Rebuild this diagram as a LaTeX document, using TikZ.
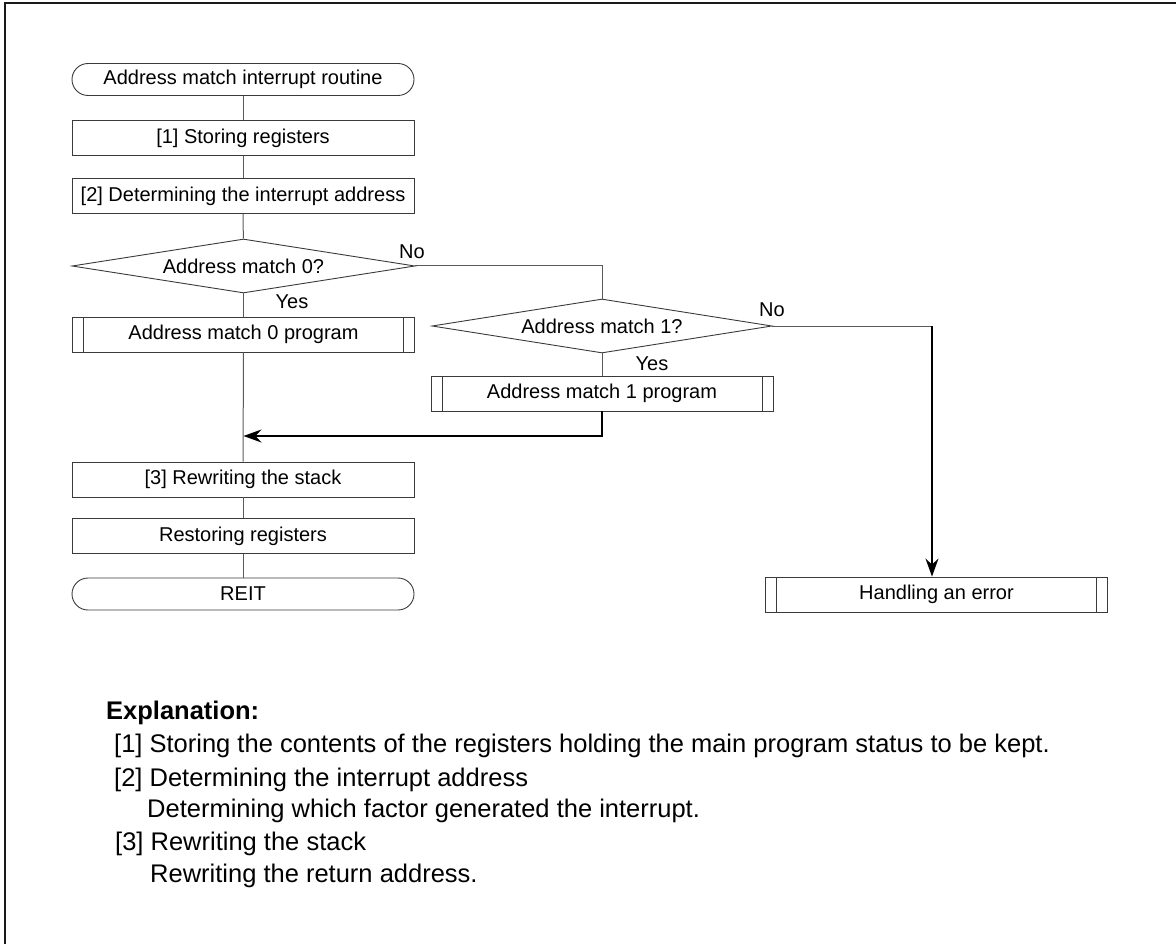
\documentclass[tikz,border=0pt]{standalone}
\usepackage{fontspec}
\setmainfont{Liberation Sans}
\usetikzlibrary{arrows.meta,positioning,shapes.geometric}
\definecolor{Frame}{HTML}{1A1A1A}
\definecolor{Edge}{HTML}{3A3A3A}
\definecolor{Wire}{HTML}{5A5A5A}
\newcommand\flowfont{\fontsize{20}{24}\selectfont}
\newcommand\notefont{\fontsize{25.5}{30}\selectfont}
\tikzset{terminal/.style={rectangle,rounded corners=16pt,draw=Edge,line width=0.9pt,minimum width=342pt,minimum height=32pt,inner sep=0pt,font=\flowfont},procbox/.style={rectangle,draw=Edge,line width=0.9pt,minimum width=342pt,minimum height=35pt,inner sep=0pt,font=\flowfont},subbox/.style={procbox,path picture={\draw[Edge,line width=0.9pt] ([xshift=11pt]path picture bounding box.north west) -- ([xshift=11pt]path picture bounding box.south west) ([xshift=-11pt]path picture bounding box.north east) -- ([xshift=-11pt]path picture bounding box.south east);}},decision/.style={diamond,aspect=6.3,draw=Edge,line width=0.9pt,minimum width=343pt,minimum height=54pt,inner sep=0pt,font=\flowfont},answer/.style={inner sep=0pt,font=\flowfont},wire/.style={draw=Wire,line width=1pt},flowarrow/.style={draw=black,line width=1.3pt,-{Stealth[length=18pt,width=13pt,inset=6pt]}},note/.style={anchor=base west,inner sep=0pt,font=\notefont}}

\begin{document}
\begin{tikzpicture}[x=1pt,y=-1pt]
\useasboundingbox (0,0) rectangle (1176,944);
\draw[Frame,line width=2.5pt] (5,944) -- (5,3) -- (1176,3);
% main column
\node[terminal] (start) at (243,79.5) {Address match interrupt routine};
\node[procbox] (store) at (243,138) {[1] Storing registers};
\node[procbox] (determ) at (243,196) {[2] Determining the interrupt address};
\node[decision] (match0) at (243.5,266) {Address match 0?};
\node[subbox] (prog0) at (243.5,334.5) {Address match 0 program};
\node[procbox] (rewrite) at (243,479.5) {[3] Rewriting the stack};
\node[procbox] (restore) at (243,536) {Restoring registers};
\node[terminal] (reit) at (243,594) {REIT};
% second test and error
\node[decision,minimum width=340pt] (match1) at (602,326) {Address match 1?};
\node[subbox] (prog1) at (602,393.5) {Address match 1 program};
\node[subbox] (error) at (936.5,594.5) {Handling an error};
\coordinate (join) at (243.5,436);
\coordinate (bend) at (932,326);
\node[answer] (no0) at (412,252) {No};
\node[answer] (yes0) at (292,302) {Yes};
\node[answer] (no1) at (772,310) {No};
\node[answer] (yes1) at (652,364) {Yes};
% connectors
\draw[wire] (start) -- (store);
\draw[wire] (store) -- (determ);
\draw[wire] (determ) -- (match0);
\draw[wire] (match0) -- (prog0);
\draw[wire] (prog0) -- (rewrite);
\draw[wire] (rewrite) -- (restore);
\draw[wire] (restore) -- (reit);
\draw[wire] (match0.east) -| (match1.north);
\draw[wire] (match1) -- (prog1);
\draw[flowarrow] (prog1.south) |- (join);
\draw[wire] (match1.east) -- (bend);
\draw[flowarrow] (bend) -- (bend |- error.north);
% explanation
\node[note,font=\notefont\bfseries] (exphead) at (106,719) {Explanation:};
\node[note] (exp1) at (114,752) {[1] Storing the contents of the registers holding the main program status to be kept.};
\node[note] (exp2) at (114,786) {[2] Determining the interrupt address};
\node[note] (exp2b) at (147,817) {Determining which factor generated the interrupt.};
\node[note] (exp3) at (115,850) {[3] Rewriting the stack};
\node[note] (exp3b) at (150,882) {Rewriting the return address.};
\end{tikzpicture}
\end{document}
